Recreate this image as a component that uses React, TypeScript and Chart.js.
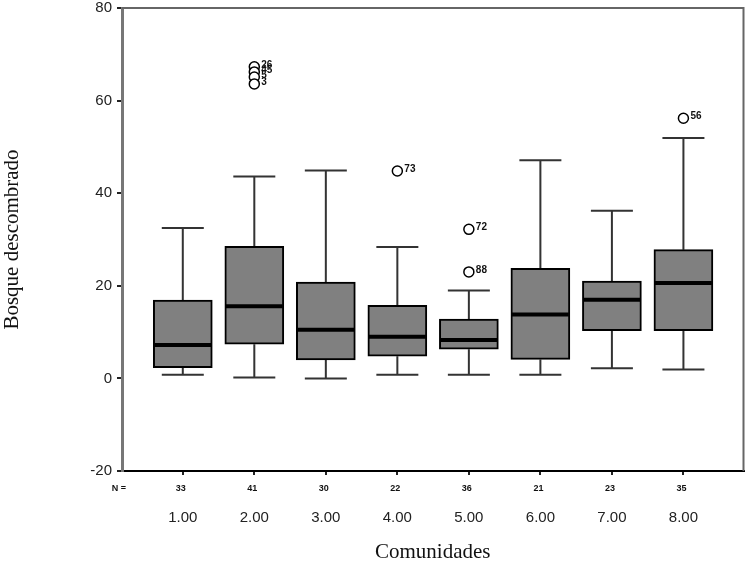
import React, { useEffect, useRef } from "react";
import { Chart, registerables } from "chart.js";

Chart.register(...registerables);

const categories = ["1.00", "2.00", "3.00", "4.00", "5.00", "6.00", "7.00", "8.00"];
const nValues = [33, 41, 30, 22, 36, 21, 23, 35];
const whiskerLow = [0.8, 0.2, 0, 0.8, 0.8, 0.8, 2.2, 1.9];
const q1 = [2.3, 7.4, 4.0, 4.8, 6.3, 4.1, 10.3, 10.3];
const median = [7.2, 15.6, 10.5, 9.0, 8.3, 13.8, 17.0, 20.6];
const q3 = [16.9, 28.5, 20.8, 15.8, 12.8, 23.8, 21.0, 27.8];
const whiskerHigh = [32.5, 43.6, 44.9, 28.4, 19.0, 47.1, 36.2, 51.9];

const outlierGroup = [2, 2, 2, 2, 4, 5, 5, 8];
const outlierValue = [67.3, 66.2, 65.1, 63.6, 44.8, 32.2, 23.0, 56.2];
const outlierLabel = ["26", "45", "5", "3", "73", "72", "88", "56"];

const yMin = -20;
const yMax = 80;
const yStep = 20;

const boxExtras = {
  id: "boxExtras",
  beforeDatasetsDraw(chart: any) {
    const { ctx } = chart;
    const xs = chart.scales.x;
    const ys = chart.scales.y;
    ctx.save();
    ctx.strokeStyle = "#333";
    ctx.lineWidth = 2;
    categories.forEach((_, i) => {
      const x = xs.getPixelForValue(i + 1);
      const yl = ys.getPixelForValue(whiskerLow[i]);
      const yh = ys.getPixelForValue(whiskerHigh[i]);
      const y1 = ys.getPixelForValue(q1[i]);
      const y3 = ys.getPixelForValue(q3[i]);
      ctx.beginPath();
      ctx.moveTo(x, yh);
      ctx.lineTo(x, y3);
      ctx.moveTo(x, y1);
      ctx.lineTo(x, yl);
      ctx.moveTo(x - 21, yh);
      ctx.lineTo(x + 21, yh);
      ctx.moveTo(x - 21, yl);
      ctx.lineTo(x + 21, yl);
      ctx.stroke();
    });
    ctx.restore();
  },
  afterDatasetsDraw(chart: any) {
    const { ctx, chartArea } = chart;
    const xs = chart.scales.x;
    const ys = chart.scales.y;
    ctx.save();
    // medians
    ctx.strokeStyle = "#000";
    ctx.lineWidth = 4;
    categories.forEach((_, i) => {
      const x = xs.getPixelForValue(i + 1);
      const ym = ys.getPixelForValue(median[i]);
      ctx.beginPath();
      ctx.moveTo(x - 28.5, ym);
      ctx.lineTo(x + 28.5, ym);
      ctx.stroke();
    });
    // outlier labels
    ctx.fillStyle = "#111";
    ctx.font = "bold 10px 'Liberation Sans', Arial, sans-serif";
    ctx.textAlign = "left";
    ctx.textBaseline = "middle";
    outlierLabel.forEach((lab, i) => {
      const x = xs.getPixelForValue(outlierGroup[i]);
      const y = ys.getPixelForValue(outlierValue[i]);
      ctx.fillText(lab, x + 7, y - 2);
    });
    // N row
    ctx.textAlign = "center";
    ctx.font = "bold 9px 'Liberation Sans', Arial, sans-serif";
    nValues.forEach((n, i) => {
      const x = xs.getPixelForValue(i + 1);
      ctx.fillText(String(n), x - 2, 489);
    });
    ctx.fillText("N =", 119, 489);
    // frame top and right
    ctx.strokeStyle = "#666";
    ctx.lineWidth = 2;
    ctx.beginPath();
    ctx.moveTo(chartArea.left, chartArea.top);
    ctx.lineTo(chartArea.right, chartArea.top);
    ctx.lineTo(chartArea.right, chartArea.bottom);
    ctx.stroke();
    ctx.restore();
  },
};

export default function App() {
  const ref = useRef<HTMLCanvasElement | null>(null);
  useEffect(() => {
    document.body.style.margin = "0";
    const canvas = ref.current;
    if (!canvas) return;
    const chart = new Chart(canvas, {
      type: "bar",
      data: {
        datasets: [
          {
            type: "bar",
            data: categories.map((_, i) => ({ x: i + 1, y: [q1[i], q3[i]] })) as any,
            backgroundColor: "#808080",
            borderColor: "#000",
            borderWidth: 2,
            borderSkipped: false,
            barThickness: 59,
          } as any,
          {
            type: "scatter",
            data: outlierValue.map((v, i) => ({ x: outlierGroup[i], y: v })),
            pointStyle: "circle",
            pointRadius: 5,
            pointBackgroundColor: "#fff",
            pointBorderColor: "#000",
            pointBorderWidth: 1.5,
            showLine: false,
          } as any,
        ],
      },
      options: {
        responsive: false,
        animation: false,
        events: [],
        layout: { padding: { top: 8, right: 3, left: 0, bottom: 0 } },
        plugins: {
          legend: { display: false },
          tooltip: { enabled: false },
        },
        scales: {
          x: {
            type: "linear",
            min: 0.15,
            max: 8.84,
            offset: false,
            afterBuildTicks: (s: any) => {
              s.ticks = categories.map((_, i) => ({ value: i + 1 }));
            },
            afterFit: (s: any) => {
              s.height = 96;
              s.paddingLeft = 0;
              s.paddingRight = 0;
            },
            ticks: {
              autoSkip: false,
              maxRotation: 0,
              padding: 34,
              color: "#222",
              font: { family: "'Liberation Sans', Arial, sans-serif", size: 15 },
              callback: (v: any) => categories[Math.round(Number(v)) - 1] ?? "",
            },
            grid: {
              offset: false,
              drawOnChartArea: false,
              tickLength: 4,
              color: "#222",
              lineWidth: 2,
            },
            border: { color: "#000", width: 2 },
            title: {
              display: true,
              text: "Comunidades",
              color: "#111",
              font: { family: "'Liberation Serif', 'Times New Roman', serif", size: 21, weight: "normal" },
              padding: { top: 0, bottom: 2 },
            },
          } as any,
          y: {
            type: "linear",
            min: yMin,
            max: yMax,
            afterFit: (s: any) => {
              s.width = 122;
              s.paddingTop = 0;
              s.paddingBottom = 0;
            },
            ticks: {
              stepSize: yStep,
              padding: 5,
              color: "#222",
              font: { family: "'Liberation Sans', Arial, sans-serif", size: 15 },
            },
            grid: {
              drawOnChartArea: false,
              tickLength: 5,
              color: "#222",
              lineWidth: 2,
            },
            border: { color: "#777", width: 3 },
            title: {
              display: true,
              text: "Bosque descombrado",
              color: "#111",
              font: { family: "'Liberation Serif', 'Times New Roman', serif", size: 21, weight: "normal" },
              padding: { top: 0, bottom: 0 },
            },
          } as any,
        },
      },
      plugins: [boxExtras],
    });
    return () => chart.destroy();
  }, []);
  return (
    <div style={{ position: "absolute", left: 0, top: 0, width: 750, height: 567 }}>
      <canvas ref={ref} width={750} height={567} style={{ width: 750, height: 567 }} />
    </div>
  );
}
